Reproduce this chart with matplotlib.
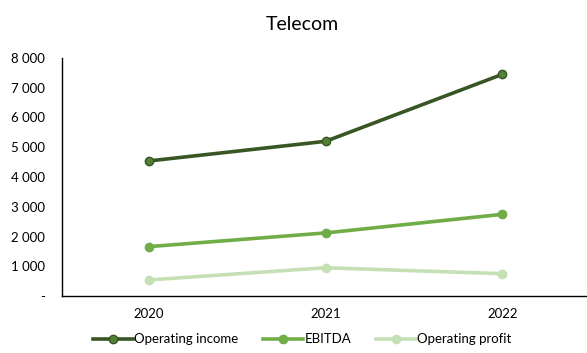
import numpy as np
import matplotlib.pyplot as plt
from matplotlib.ticker import FuncFormatter

plt.rcParams['font.family'] = ['Lato', 'DejaVu Sans']

# Telecom segment figures (thousands)
years = ['2020', '2021', '2022']
operating_income = [4540, 5200, 7450]
ebitda = [1660, 2120, 2745]
operating_profit = [540, 950, 750]

series = [
    ('Operating income', operating_income, '#375623', '#548235'),
    ('EBITDA', ebitda, '#70AD47', '#70AD47'),
    ('Operating profit', operating_profit, '#C5E0B4', '#C5E0B4'),
]

fig = plt.figure(figsize=(5.87, 3.53), dpi=100)
ax = fig.add_axes([62 / 587, 57 / 353, 525 / 587, 238 / 353])

x = np.arange(len(years))
for name, values, line_color, marker_color in series:
    ax.plot(x, values, color=line_color, linewidth=2.6, marker='o', markersize=6,
            markerfacecolor=marker_color, markeredgecolor=line_color, label=name)

ax.set_xlim(-0.493, 2.48)
ax.set_ylim(0, 8000)
ax.set_yticks(np.arange(0, 8001, 1000))
ax.yaxis.set_major_formatter(FuncFormatter(
    lambda v, _: '-' if v == 0 else f'{int(v):,}'.replace(',', ' ')))
ax.set_xticks(x)
ax.set_xticklabels(years)
ax.tick_params(axis='both', length=0, labelsize=9.5, colors='#000000')
ax.tick_params(axis='x', pad=9)
ax.tick_params(axis='y', pad=12)

for side in ('top', 'right'):
    ax.spines[side].set_visible(False)
for side in ('left', 'bottom'):
    ax.spines[side].set_color('#000000')
    ax.spines[side].set_linewidth(1.0)

fig.text(0.515, 0.93, 'Telecom', ha='center', va='center', fontsize=14)

fig.legend(loc='lower center', bbox_to_anchor=(0.515, -0.012), ncol=3, frameon=False,
           fontsize=9.5, handlelength=3.0, handletextpad=0.1, columnspacing=1.9)

fig.savefig('out.png', dpi=100)
